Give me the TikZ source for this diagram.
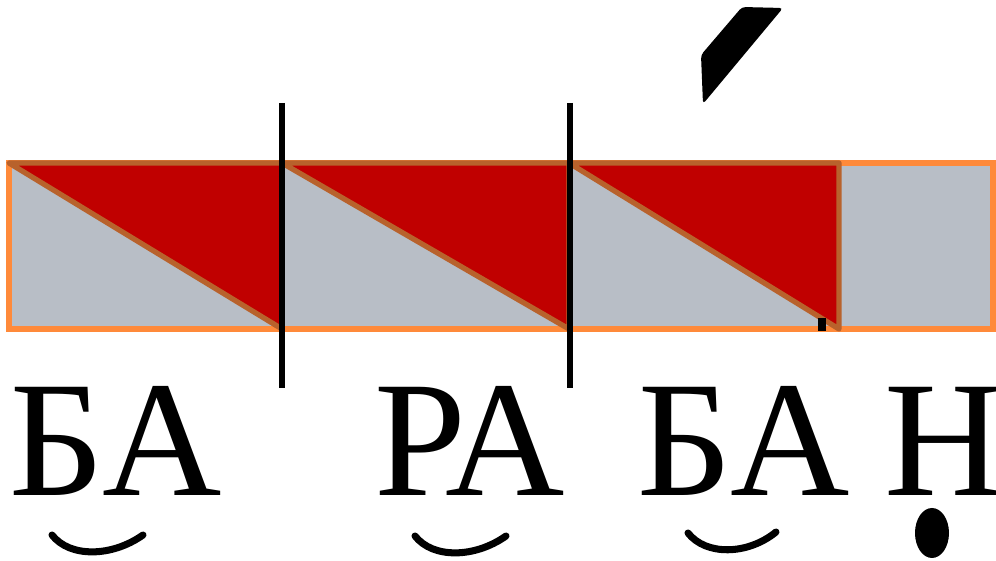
\documentclass[tikz,border=0pt]{standalone}
\usepackage{fontspec}
\setmainfont{Liberation Serif}
\usepackage{tikz}

\definecolor{slotgray}{HTML}{B8BEC6}
\definecolor{stressred}{HTML}{C00000}
\definecolor{barorange}{HTML}{FF8A3A}
\definecolor{edgebrown}{HTML}{B8622C}

\begin{document}
\begin{tikzpicture}[x=0.01cm, y=-0.01cm,
	every node/.style={font=\fontsize{47}{47}\selectfont, inner sep=0pt, anchor=base west},
	bar/.style={fill=slotgray, draw=barorange, line width=1.5pt},
	half/.style={fill=stressred, draw=edgebrown, line width=1.5pt, line join=round},
	cut/.style={line width=1.9pt},
	breve/.style={line width=2pt, line cap=round}]
	\useasboundingbox (0,0) rectangle (996,561);
	% syllable bar
	\draw[bar] (9,163) rectangle (993,329);
	\foreach \a/\b in {9/282, 282/569, 569/839} {\draw[half] (\a,163) -- (\b,163) -- (\b,329) -- cycle;}
	\draw[line width=2pt] (822,318) -- (822,331);
	% syllable boundaries
	\draw[cut] (282,103) -- (282,388);
	\draw[cut] (570,103) -- (570,388);
	% stress mark
	\fill[rounded corners=1pt] (742,7) -- (783,8) -- (703,104) -- (701,55) -- cycle;
	% letters
	\node (ba1) at (9,496) {БА};
	\node (ra) at (374,496) {РА};
	\node (ba2) at (637,496) {БА};
	\node (n) at (884,496) {Н};
	% marks under the vowels
	\draw[breve] (52,535) .. controls (70,558) and (112,557) .. (143,535);
	\draw[breve] (415,536) .. controls (433,559) and (475,558) .. (506,536);
	\draw[breve] (688,533) .. controls (706,556) and (748,555) .. (776,532);
	\fill (932,533) ellipse (17 and 25);
\end{tikzpicture}
\end{document}
